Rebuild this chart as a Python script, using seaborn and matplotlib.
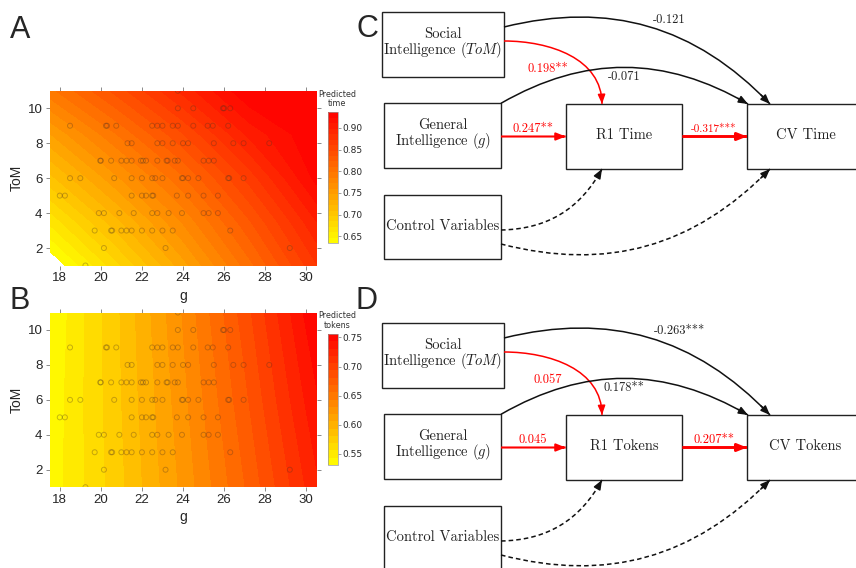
import numpy as np
import matplotlib
matplotlib.use("Agg")
import matplotlib.pyplot as plt
import seaborn as sns
from matplotlib.patches import Rectangle, PathPatch
from matplotlib.path import Path

# predicted surfaces (rows = ToM, cols = g)
g_grid = [17.5, 20.75, 24.0, 27.25, 30.5]
tom_grid_time = [1, 3.5, 6, 8.5, 11]
pred_time = [
    [0.620, 0.680, 0.742, 0.806, 0.872],
    [0.662, 0.718, 0.774, 0.834, 0.898],
    [0.705, 0.757, 0.808, 0.866, 0.928],
    [0.746, 0.797, 0.847, 0.902, 0.958],
    [0.793, 0.840, 0.890, 0.940, 0.990],
]
tom_grid_tokens = [1, 6, 11]
pred_tokens = [
    [0.535, 0.575, 0.622, 0.672, 0.728],
    [0.534, 0.577, 0.627, 0.682, 0.742],
    [0.531, 0.578, 0.632, 0.692, 0.756],
]
time_range = (0.634, 0.936)
tokens_range = (0.531, 0.756)
time_ticks = [0.65, 0.70, 0.75, 0.80, 0.85, 0.90]
tokens_ticks = [0.55, 0.60, 0.65, 0.70, 0.75]

# observed participants (g, ToM)
obs = {
    11: [23.75],
    10: [23.75, 24.5, 25.95, 26.0, 26.3],
    9: [18.5, 20.25, 20.3, 20.75, 22.5, 22.75, 23.0, 23.5, 23.75, 24.5, 25.2, 25.45, 26.2],
    8: [21.3, 21.5, 22.75, 23.0, 23.5, 24.0, 24.25, 25.5, 26.45, 26.95, 28.2],
    7: [19.97, 20.0, 20.5, 21.0, 21.25, 21.5, 21.95, 22.05, 22.2, 22.75, 23.2, 23.25,
        23.6, 23.75, 25.0, 25.25, 25.5],
    6: [18.5, 19.0, 20.65, 21.5, 22.0, 22.5, 22.65, 23.0, 23.95, 24.0, 24.25, 24.75,
        26.2, 26.25, 26.95],
    5: [18.0, 18.25, 21.5, 22.0, 22.2, 22.5, 22.55, 23.7, 24.25, 25.0, 25.7],
    4: [19.9, 20.15, 20.9, 21.6, 22.5, 22.75, 23.3, 23.95, 25.0, 25.25, 25.7],
    3: [19.7, 20.5, 20.55, 21.0, 21.25, 21.5, 22.0, 22.5, 23.0, 23.5, 26.3],
    2: [20.15, 23.15, 29.2],
    1: [19.25],
}
g_obs = [g for t in obs for g in obs[t]]
tom_obs = [t for t in obs for g in obs[t]]

# path coefficients: ToM->CV, ToM->R1, g->CV, g->R1, R1->CV
time_coefs = ["-0.121", "0.198**", "-0.071", "0.247**", "-0.317***"]
token_coefs = ["-0.263***", "0.057", "0.178**", "0.045", "0.207**"]

sns.set_style("ticks")
plt.rcParams["font.family"] = ["Liberation Sans", "DejaVu Sans"]
plt.rcParams["mathtext.fontset"] = "cm"
plt.rcParams["axes.unicode_minus"] = False

W, H = 856, 568
fig = plt.figure(figsize=(W / 100, H / 100), dpi=100)


def rect(x0, y0, x1, y1):
    return [x0 / W, 1 - y1 / H, (x1 - x0) / W, (y1 - y0) / H]


def surface(top, zgrid, ygrid, zlim, nlev, cticks, title):
    ax = fig.add_axes(rect(49.5, top, 316.5, top + 174.7))
    levels = np.linspace(zlim[0], zlim[1], nlev)
    z = np.minimum(np.array(zgrid), zlim[1] - 1e-6)
    cf = ax.contourf(g_grid, ygrid, z, levels=levels, cmap="autumn_r")
    sns.scatterplot(x=g_obs, y=tom_obs, ax=ax, s=13, facecolors="none",
                    edgecolors="#4a3020", linewidth=0.7, alpha=0.32, legend=False)
    ax.set_xlim(17.5, 30.5)
    ax.set_ylim(1, 11)
    ax.set_xticks(range(18, 31, 2))
    ax.set_yticks(range(2, 11, 2))
    ax.tick_params(direction="out", length=3, width=0.6, color="#777",
                   top=True, right=True, labelsize=9.5, pad=2)
    for s in ax.spines.values():
        s.set_visible(False)
    ax.set_xlabel("g", fontsize=10, labelpad=3)
    ax.set_ylabel("ToM", fontsize=10, labelpad=3)

    cb_top = top + 21.5
    cax = fig.add_axes(rect(328, cb_top, 338, cb_top + 131))
    cb = fig.colorbar(cf, cax=cax, ticks=cticks, format="%.2f")
    cb.outline.set_linewidth(0.5)
    cb.outline.set_edgecolor("#999")
    cax.tick_params(length=2, width=0.5, color="#777", labelsize=6.5, pad=1.5)
    for lab in cax.get_yticklabels():
        lab.set_fontfamily("DejaVu Sans")
    fig.text(337 / W, 1 - (cb_top - 4) / H, title, ha="center", va="bottom",
             fontsize=5.8, family="DejaVu Sans", color="#333", linespacing=1.1)


surface(90.8, pred_time, tom_grid_time, time_range, 25, time_ticks, "Predicted\ntime")
surface(312.5, pred_tokens, tom_grid_tokens, tokens_range, 19, tokens_ticks, "Predicted\ntokens")

# path diagrams, drawn in pixel coordinates
ax_d = fig.add_axes([345 / W, 0, 1 - 345 / W, 1])
ax_d.set_xlim(345, W)
ax_d.set_ylim(H, 0)
ax_d.axis("off")

RED = "#ff0000"


def curve(p0, p3, bend=0.0, a_out=None, a_in=None, color="k", lw=1.0, ls="-"):
    p0 = np.array(p0, float)
    p3 = np.array(p3, float)
    d = p3 - p0
    chord = np.arctan2(d[1], d[0])
    L = 0.3915 * np.hypot(*d)
    ao = chord - np.radians(bend) if a_out is None else np.radians(a_out)
    ai = chord + np.radians(bend) if a_in is None else np.radians(a_in)
    p1 = p0 + L * np.array([np.cos(ao), np.sin(ao)])
    p2 = p3 - L * np.array([np.cos(ai), np.sin(ai)])
    path = Path([p0, p1, p2, p3], [Path.MOVETO, Path.CURVE4, Path.CURVE4, Path.CURVE4])
    ax_d.add_patch(PathPatch(path, fill=False, edgecolor=color, lw=lw, linestyle=ls))
    t = 0.96
    q = (1 - t) ** 3 * p0 + 3 * (1 - t) ** 2 * t * p1 + 3 * (1 - t) * t ** 2 * p2 + t ** 3 * p3
    ax_d.annotate("", xy=p3, xytext=q,
                  arrowprops=dict(arrowstyle="-|>,head_length=0.55,head_width=0.22",
                                  mutation_scale=10, color=color, lw=lw,
                                  shrinkA=0, shrinkB=0))


def diagram(y0, outcome, coefs, first):
    boxes = [
        (381.7, 12.3, 122.3, 65, "Social\nIntelligence ($ToM$)"),
        (384.3, 103.3, 116.7, 64.4, "General\nIntelligence ($g$)"),
        (384.3, 195, 116.7, 64.3, "Control Variables"),
        (565.7, 104, 116.6, 65, "R1 " + outcome),
        (747, 104, 117, 65, "CV " + outcome),
    ]
    for x, y, w, h, txt in boxes:
        ax_d.add_patch(Rectangle((x, y + y0), w, h, fill=False, edgecolor="#222", lw=1.0))
        ax_d.text(x + w / 2, y + y0 + h / 2 - 1, txt, ha="center", va="center",
                  fontsize=10.5, linespacing=0.95, family="cmr10", color="#222")

    curve((504, 27 + y0), (770, 104 + y0), bend=30, color="#111", lw=1.1)
    curve((504, 41 + y0), (602, 104 + y0), a_out=0, a_in=90, color=RED, lw=1.1)
    curve((501, 103.3 + y0), (748, 104 + y0), bend=30, color="#111", lw=1.1)
    curve((501, 136.5 + y0), (565.7, 136.5 + y0), color=RED, lw=1.5)
    curve((682.3, 136.5 + y0), (747, 136.5 + y0), color=RED, lw=2.1)
    curve((501, 230 + y0), (602, 169 + y0), bend=-30, color="#111", lw=1.1, ls=(0, (3, 2)))
    curve((501, 244 + y0), (770, 169 + y0), bend=-30, color="#111", lw=1.1, ls=(0, (3, 2)))

    label_pos = [(669 if first else 679, 23.3), (547.5, 71.7), (624, 80),
                 (533, 131.7), (714, 132.3)]
    label_col = ["#222", RED, "#222", RED, RED]
    for i, (txt, (x, y), c) in enumerate(zip(coefs, label_pos, label_col)):
        size = 8 if (first and i == 4) else 9
        ax_d.text(x, y + y0, txt, ha="center", va="baseline", fontsize=size,
                  family="cmr10", color=c)


diagram(0, "Time", time_coefs, True)
diagram(311, "Tokens", token_coefs, False)

for lab, x, y in [("A", 10, 38), ("B", 10, 309), ("C", 356, 37), ("D", 356, 309)]:
    fig.text(x / W, 1 - y / H, lab, fontsize=22, va="baseline", ha="left")

fig.savefig("out.png", dpi=100)
